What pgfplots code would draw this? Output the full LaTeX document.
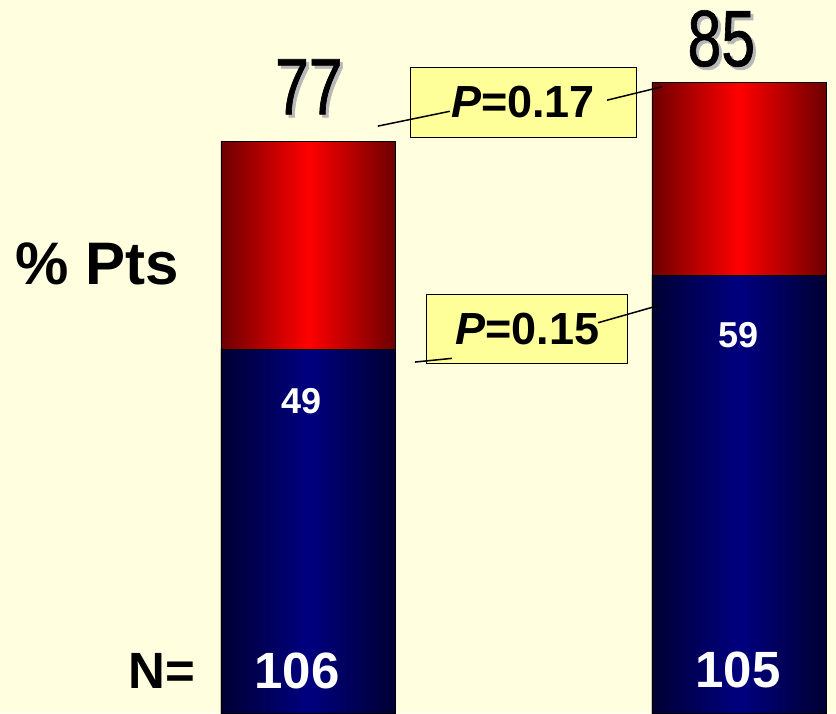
\documentclass[border=0pt]{standalone}
\usepackage{fontspec}
\setmainfont{Liberation Sans}
\newfontfamily\narrowfont[FakeStretch=0.76, FakeBold=0.8]{Liberation Sans}
\usepackage{pgfplots}
\pgfplotsset{compat=1.18}

\definecolor{bg}{HTML}{FFFFE0}
\definecolor{boxy}{HTML}{FFFF99}
\definecolor{navy}{HTML}{000080}
\definecolor{navyd}{HTML}{000033}
\definecolor{redd}{HTML}{6E0000}
\definecolor{shad}{HTML}{B8B8B8}

\newcommand{\tallnum}[1]{\fontsize{80}{80}\narrowfont #1}

\pgfplotsset{
  bluebar/.style={draw=black, line width=0.8pt, left color=navyd, right color=navyd, middle color=navy},
  redbar/.style={draw=black, line width=0.8pt, left color=redd, right color=redd, middle color=red},
}

\begin{document}
\begin{tikzpicture}
\fill[bg] (0,0) rectangle (836pt,713pt);
\begin{axis}[
  width=836pt, height=713pt, scale only axis,
  xmin=-0.7146, xmax=1.2251,
  ymin=0, ymax=96.1,
  axis lines=none,
  ybar, bar shift=0pt,
  bar width=174pt,
  set layers,
]
% totals (red), then the lower part (blue) drawn over them; one plot per bar so each bar gets its own shading
\addplot[redbar] coordinates {(0,77)};
\addplot[redbar] coordinates {(1,85)};
\addplot[bluebar] coordinates {(0,49)};
\addplot[bluebar] coordinates {(1,59)};

\begin{pgfonlayer}{axis foreground}
% totals with shadow
\node[inner sep=0, text=shad] at ([xshift=3pt,yshift=-3pt]axis cs:0.002,84.4) {\tallnum{77}};
\node[inner sep=0] at (axis cs:0.002,84.4) {\tallnum{77}};
\node[inner sep=0, text=shad] at ([xshift=3pt,yshift=-3pt]axis cs:0.959,90.9) {\tallnum{85}};
\node[inner sep=0] at (axis cs:0.959,90.9) {\tallnum{85}};

% values inside the bars
\node[inner sep=0, text=white, font=\fontsize{36}{36}\selectfont\bfseries] at (axis cs:-0.016,42.1) {49};
\node[inner sep=0, text=white, font=\fontsize{36}{36}\selectfont\bfseries] at (axis cs:0.998,50.9) {59};
\node[inner sep=0, text=white, font=\fontsize{51}{51}\selectfont\bfseries] at (axis cs:-0.0255,5.69) {106};
\node[inner sep=0, text=white, font=\fontsize{51}{51}\selectfont\bfseries] at (axis cs:0.998,5.8) {105};
\node[inner sep=0, font=\fontsize{51}{51}\selectfont\bfseries] at (axis cs:-0.339,5.69) {N=};

\node[inner sep=0, anchor=base, font=\fontsize{60}{60}\selectfont\bfseries] at (axis cs:-0.488,57.7) {\% Pts};

% P-value boxes
\node[draw=black, line width=1pt, fill=boxy, minimum width=226pt, minimum height=70pt, inner sep=0,
      font=\fontsize{45}{45}\selectfont\bfseries] at (axis cs:0.499,82.3) {\textit{P}=0.17};
\node[draw=black, line width=1pt, fill=boxy, minimum width=201pt, minimum height=69pt, inner sep=0,
      font=\fontsize{45}{45}\selectfont\bfseries] at (axis cs:0.509,51.8) {\textit{P}=0.15};

\draw[line width=1.5pt] (axis cs:0.162,79.1) -- (axis cs:0.329,81.1);
\draw[line width=1.5pt] (axis cs:0.694,82.6) -- (axis cs:0.821,84.4);
\draw[line width=1.5pt] (axis cs:0.248,47.3) -- (axis cs:0.334,47.8);
\draw[line width=1.5pt] (axis cs:0.673,52.6) -- (axis cs:0.812,54.9);
\end{pgfonlayer}
\end{axis}
\end{tikzpicture}
\end{document}
